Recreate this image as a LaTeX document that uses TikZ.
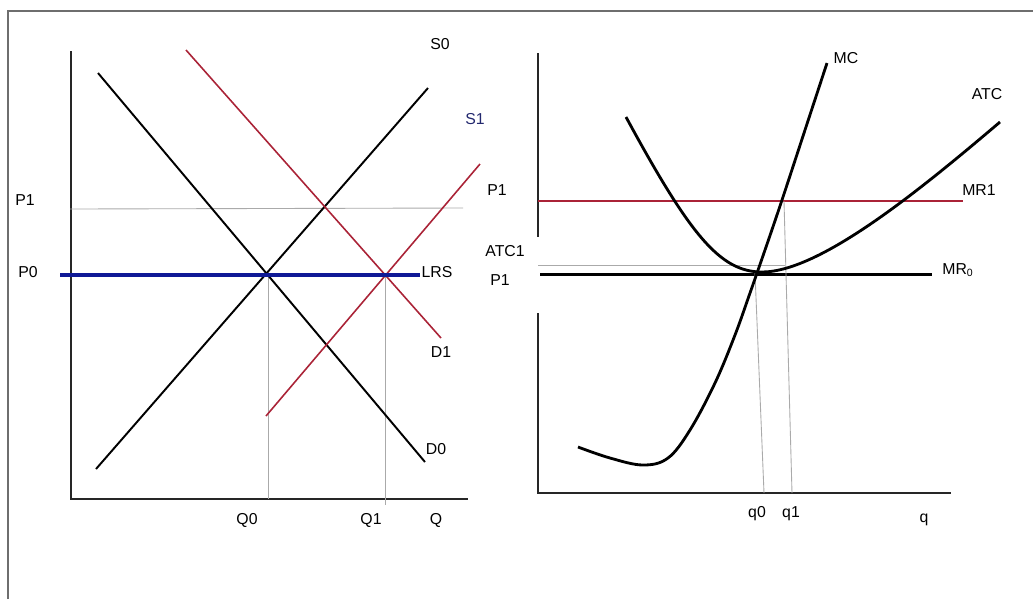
\documentclass[tikz,border=0pt]{standalone}
\usepackage{fontspec}
\setmainfont{Liberation Sans}

\definecolor{curvered}{RGB}{170,35,55}
\definecolor{lrsblue}{RGB}{15,25,150}
\definecolor{guidegray}{RGB}{170,170,170}
\definecolor{framegray}{RGB}{110,110,110}
\definecolor{labelblue}{RGB}{35,40,110}

\begin{document}
\begin{tikzpicture}[x=0.2mm,y=-0.2mm,
    lbl/.style={font=\fontsize{9}{10}\selectfont,inner sep=0pt},
    axis/.style={line width=1.1pt,black!85},
    guide/.style={line width=0.5pt,guidegray},
    blackline/.style={line width=1.1pt},
    redline/.style={line width=0.9pt,curvered}]
    \useasboundingbox (0,0) rectangle (1033,599);
    \draw[line width=1.1pt,framegray] (8,599)--(8,11)--(1033,11);

    % market
    \draw[axis] (71,51)--(71,499)--(468,499);
    \draw[guide] (70,209)--(463,208);
    \draw[guide] (268,275)--(268,499);
    \draw[guide] (385,275)--(385,505);
    \draw[blackline] (98,73)--(425,462);
    \draw[blackline] (96,469)--(428,88);
    \draw[redline] (186,50)--(441,338);
    \draw[redline] (266,416)--(480,164);
    \draw[line width=2.8pt,lrsblue] (60,275)--(420,275);

    \node[lbl] (s0) at (440,44) {S0};
    \node[lbl,labelblue] (s1) at (475,119) {S1};
    \node[lbl] (p1) at (25,200) {P1};
    \node[lbl] (p0) at (28,272) {P0};
    \node[lbl] (lrs) at (437,272) {LRS};
    \node[lbl] (d1) at (441,352) {D1};
    \node[lbl] (d0) at (436,449) {D0};
    \node[lbl] (Q0) at (247,520) {Q0};
    \node[lbl] (Q1) at (371,520) {Q1};
    \node[lbl] (Q) at (436,520) {Q};

    % firm
    \draw[axis] (538,53)--(538,237);
    \draw[axis] (538,313)--(538,493)--(951,493);
    \draw[line width=0.7pt,curvered] (538,201)--(963,201);
    \draw[guide] (538,265)--(785,265);
    \draw[line width=1.7pt] (540,274)--(932,274);
    \draw[guide] (755,273)--(764,493);
    \draw[guide] (784,201)--(792,493);

    \draw[line width=1.6pt] (626,117) .. controls (690,235) and (720,272) .. (762,272)
        .. controls (820,272) and (920,190) .. (1000,122);
    \draw[line width=1.6pt] plot[smooth,tension=0.6] coordinates
        {(578,447) (610,458) (643,465) (668,458) (690,430) (715,383)
         (735,335) (750,293) (765,250) (782,200) (805,130) (827,63)};

    \node[lbl] (mc) at (846,58) {MC};
    \node[lbl] (atc) at (987,94) {ATC};
    \node[lbl] (mr1) at (979,190) {MR1};
    \node[lbl] (mr0) at (958,270) {MR\textsubscript{0}};
    \node[lbl] (p1b) at (497,190) {P1};
    \node[lbl] (atc1) at (505,251) {ATC1};
    \node[lbl] (p1c) at (500,280) {P1};
    \node[lbl] (q0) at (757,514) {q0};
    \node[lbl] (q1) at (791,514) {q1};
    \node[lbl] (q) at (924,520) {q};
\end{tikzpicture}
\end{document}
